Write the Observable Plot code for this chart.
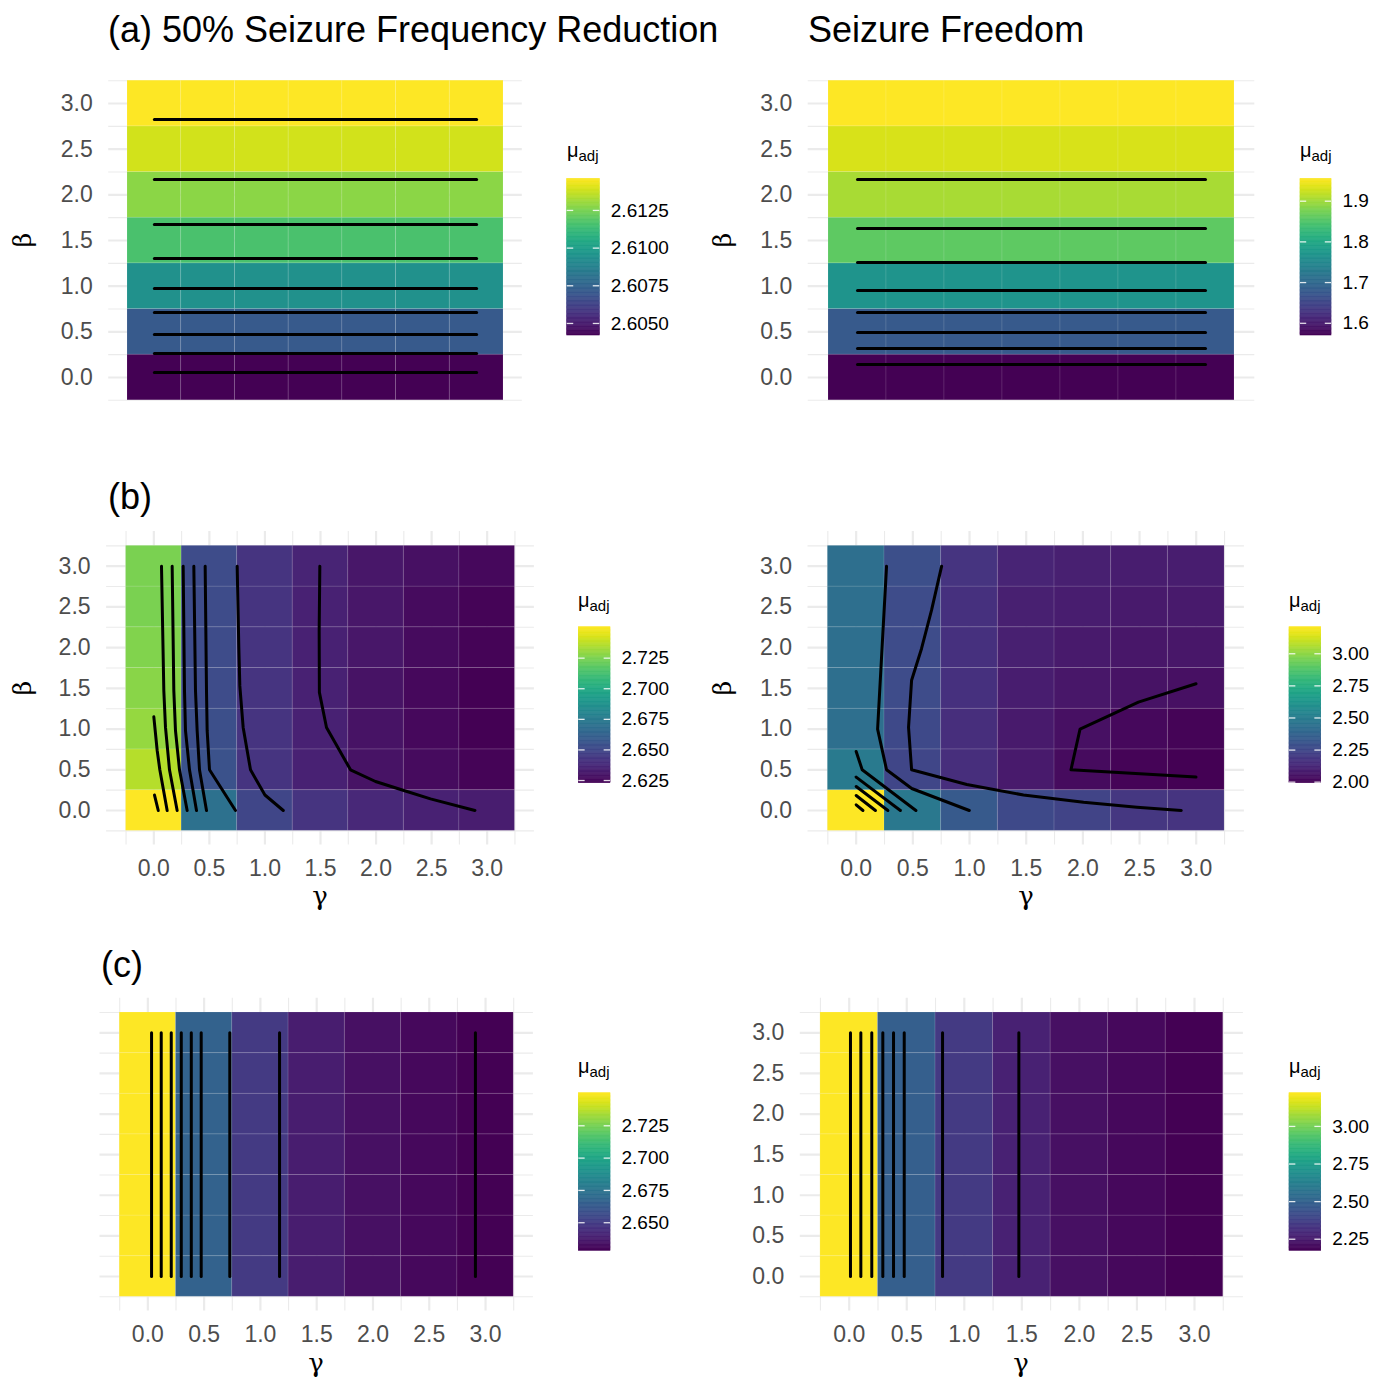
<!DOCTYPE html>
<html><head><meta charset="utf-8">
<script src="https://cdn.jsdelivr.net/npm/d3@7"></script>
<script src="https://cdn.jsdelivr.net/npm/@observablehq/plot@0.6"></script>
<style>
body{margin:0;background:#fff;}
#root{position:relative;width:1400px;height:1400px;background:#fff;overflow:hidden;font-family:"Liberation Sans",Arial,sans-serif;}
#root svg{overflow:visible;}
</style></head><body><div id="root"></div>
<script>
// ---------- data ----------
const gammas = [0, 0.5, 1, 1.5, 2, 2.5, 3];
const betas = [0, 0.5, 1, 1.5, 2, 2.5, 3];
const axisTicks = [0, 0.5, 1, 1.5, 2, 2.5, 3];
const minorBreaks = [-0.25, 0.25, 0.75, 1.25, 1.75, 2.25, 2.75, 3.25];

// (a) mu_adj by beta (constant in gamma)
const aLeftMu = [2.6042, 2.6071, 2.6094, 2.6116, 2.6128, 2.6139, 2.6146];
const aRightMu = [1.570, 1.678, 1.770, 1.859, 1.905, 1.932, 1.955];

// (b) rows: beta 0..3, columns: gamma 0..3
const bLeftMu = [
  [2.7503, 2.6700, 2.6496, 2.6419, 2.6368, 2.6343, 2.6330],
  [2.7363, 2.6547, 2.6419, 2.6343, 2.6292, 2.6266, 2.6241],
  [2.7299, 2.6534, 2.6419, 2.6343, 2.6292, 2.6254, 2.6228],
  [2.7274, 2.6521, 2.6419, 2.6343, 2.6292, 2.6254, 2.6228],
  [2.7261, 2.6521, 2.6419, 2.6343, 2.6305, 2.6266, 2.6241],
  [2.7248, 2.6521, 2.6419, 2.6343, 2.6305, 2.6266, 2.6241],
  [2.7248, 2.6521, 2.6419, 2.6356, 2.6305, 2.6279, 2.6254]
];
const bRightMu = [
  [3.207, 2.478, 2.332, 2.259, 2.235, 2.186, 2.174],
  [2.490, 2.247, 2.150, 2.077, 2.028, 2.004, 1.992],
  [2.429, 2.259, 2.150, 2.077, 2.041, 2.016, 2.004],
  [2.429, 2.271, 2.162, 2.089, 2.065, 2.053, 2.041],
  [2.429, 2.271, 2.162, 2.101, 2.077, 2.065, 2.065],
  [2.429, 2.271, 2.162, 2.101, 2.089, 2.077, 2.077],
  [2.429, 2.284, 2.174, 2.114, 2.101, 2.089, 2.089]
];

// (c) mu_adj by gamma (constant in beta)
const cLeftMu = [2.7502, 2.6661, 2.6490, 2.6381, 2.6332, 2.6307, 2.6283];
const cRightMu = [3.221, 2.4874, 2.3512, 2.2673, 2.2149, 2.1940, 2.173];

// contour lines
const aLeftContourBetas = [0.055, 0.263, 0.471, 0.712, 0.974, 1.303, 1.675, 2.168, 2.825];
const aRightContourBetas = [0.142, 0.318, 0.493, 0.712, 0.953, 1.259, 1.631, 2.168];
const bLeftContours = [
  [[0.006, 0.19], [0.04, 0.0]],
  [[0.0, 1.15], [0.03, 0.74], [0.054, 0.5], [0.12, 0.0]],
  [[0.069, 3.0], [0.09, 1.47], [0.105, 1.02], [0.141, 0.5], [0.21, 0.0]],
  [[0.165, 3.0], [0.18, 1.47], [0.195, 0.98], [0.231, 0.5], [0.30, 0.0]],
  [[0.264, 3.0], [0.276, 1.47], [0.285, 0.98], [0.321, 0.5], [0.384, 0.0]],
  [[0.36, 3.0], [0.375, 1.47], [0.39, 0.98], [0.411, 0.5], [0.474, 0.0]],
  [[0.462, 3.0], [0.474, 1.47], [0.48, 0.98], [0.501, 0.5], [0.735, 0.0]],
  [[0.75, 3.0], [0.765, 2.0], [0.774, 1.53], [0.804, 1.02], [0.87, 0.5], [1.0, 0.19], [1.165, 0.0]],
  [[1.494, 3.0], [1.488, 2.21], [1.49, 1.45], [1.554, 1.02], [1.77, 0.5], [1.995, 0.356], [2.25, 0.245], [2.49, 0.143], [2.89, 0.0]]
];
const bRightContours = [
  [[0.0, 0.07], [0.06, 0.0]],
  [[0.0, 0.184], [0.17, 0.0]],
  [[0.0, 0.295], [0.28, 0.0]],
  [[0.0, 0.41], [0.39, 0.0]],
  [[0.0, 0.725], [0.053, 0.5], [0.527, 0.0]],
  [[0.268, 3.0], [0.189, 1.0], [0.268, 0.5], [0.49, 0.27], [0.998, 0.0]],
  [[0.754, 3.0], [0.665, 2.46], [0.577, 1.99], [0.489, 1.6], [0.462, 1.02], [0.489, 0.5], [0.976, 0.32], [1.476, 0.19], [2.006, 0.10], [2.477, 0.04], [2.868, 0.0]],
  [[2.998, 1.556], [2.49, 1.33], [1.975, 1.0], [1.895, 0.5], [2.998, 0.41]]
];
const cLeftContourGammas = [0.033, 0.119, 0.208, 0.297, 0.386, 0.474, 0.728, 1.17, 2.91];
const cRightContourGammas = [0.011, 0.101, 0.196, 0.292, 0.385, 0.478, 0.811, 1.474];

// legend ticks
const aLeftLegendTicks = [2.605, 2.6075, 2.61, 2.6125];
const aRightLegendTicks = [1.6, 1.7, 1.8, 1.9];
const bLeftLegendTicks = [2.625, 2.65, 2.675, 2.7, 2.725];
const bRightLegendTicks = [2.0, 2.25, 2.5, 2.75, 3.0];
const cLeftLegendTicks = [2.65, 2.675, 2.7, 2.725];
const cRightLegendTicks = [2.25, 2.5, 2.75, 3.0];

// ---------- helpers ----------
const root = document.getElementById("root");
const FONT = "'Liberation Sans', Arial, sans-serif";
function place(node, left, top) {
  node.style.position = "absolute";
  node.style.left = left + "px";
  node.style.top = top + "px";
  root.appendChild(node);
}
const tilesByBeta = arr => betas.flatMap((b, i) => gammas.map(g => ({g, b, v: arr[i]})));
const tilesByGamma = arr => betas.flatMap(b => gammas.map((g, j) => ({g, b, v: arr[j]})));
const tilesGrid = m => betas.flatMap((b, i) => gammas.map((g, j) => ({g, b, v: m[i][j]})));
const hLines = bs => bs.flatMap((b, i) => [{g: gammas[0], b, id: i}, {g: gammas[gammas.length - 1], b, id: i}]);
const vLines = gs => gs.flatMap((g, i) => [{g, b: betas[0], id: i}, {g, b: betas[betas.length - 1], id: i}]);
const polyLines = ls => ls.flatMap((pts, i) => pts.map(([g, b]) => ({g, b, id: i})));
const range = arr => [d3.min(arr.flat()), d3.max(arr.flat())];

function panel(o) {
  const svgLeft = o.svgLeft, svgTop = Math.round(o.py0 - 6);
  const svgW = Math.round(o.px1 - svgLeft + 8), svgH = Math.round(o.py1 + 48 - svgTop);
  const marks = [];
  if (o.gridY) {
    marks.push(Plot.ruleY(minorBreaks, {stroke: "#EBEBEB", strokeWidth: 1.1}));
    marks.push(Plot.ruleY(axisTicks, {stroke: "#EBEBEB", strokeWidth: 2.2}));
  }
  if (o.gridX) {
    marks.push(Plot.ruleX(minorBreaks, {stroke: "#EBEBEB", strokeWidth: 1.1}));
    marks.push(Plot.ruleX(axisTicks, {stroke: "#EBEBEB", strokeWidth: 2.2}));
  }
  marks.push(Plot.rect(o.tiles, {
    x1: d => d.g - 0.25, x2: d => d.g + 0.25, y1: d => d.b - 0.25, y2: d => d.b + 0.25,
    fill: "v", stroke: "white", strokeOpacity: 0.1, strokeWidth: 1
  }));
  marks.push(Plot.line(o.lines, {x: "g", y: "b", z: "id", stroke: "black", strokeWidth: 3, strokeLinejoin: "round"}));
  if (o.labelsX) marks.push(Plot.axisX(axisTicks, {
    anchor: "bottom", tickSize: 0, tickPadding: o.padX ?? 15, fontSize: 23, color: "#4D4D4D",
    tickFormat: d => d.toFixed(1), label: null
  }));
  if (o.labelsY) marks.push(Plot.axisY(axisTicks, {
    anchor: "left", tickSize: 0, tickPadding: 16, fontSize: 23, color: "#4D4D4D",
    tickFormat: d => d.toFixed(1), label: null
  }));
  const svg = Plot.plot({
    width: svgW, height: svgH,
    marginLeft: o.px0 - svgLeft, marginRight: svgLeft + svgW - o.px1,
    marginTop: o.py0 - svgTop, marginBottom: svgTop + svgH - o.py1,
    x: {domain: [-0.425, 3.425], axis: null},
    y: {domain: [-0.425, 3.425], axis: null},
    color: {type: "linear", scheme: "viridis", domain: o.domain},
    style: {fontFamily: FONT, background: "transparent", overflow: "visible"},
    marks
  });
  place(svg, svgLeft, svgTop);
}

function legend(o) {
  const [lo, hi] = o.domain;
  const n = 120;
  const slices = d3.range(n).map(i => ({y1: lo + (hi - lo) * i / n, y2: lo + (hi - lo) * (i + 1) / n, v: lo + (hi - lo) * (i + 0.5) / n}));
  const left = Math.round(o.x0 - 2), top = Math.round(o.y0 - 14);
  const w = Math.round(o.x1 - left + 90), h = Math.round(o.y1 - top + 14);
  const svg = Plot.plot({
    width: w, height: h,
    marginLeft: o.x0 - left, marginRight: left + w - o.x1,
    marginTop: o.y0 - top, marginBottom: top + h - o.y1,
    x: {domain: [0, 1], axis: null},
    y: {domain: [lo, hi], axis: null},
    color: {type: "linear", scheme: "viridis", domain: [lo, hi]},
    style: {fontFamily: FONT, background: "transparent", overflow: "visible"},
    marks: [
      Plot.rect(slices, {x1: () => 0, x2: () => 1, y1: "y1", y2: "y2", fill: "v", stroke: "v", strokeWidth: 0.6}),
      Plot.ruleY(o.ticks, {x1: () => 0, x2: () => 0.2, stroke: "white", strokeWidth: 1.3, strokeOpacity: 0.85}),
      Plot.ruleY(o.ticks, {x1: () => 0.8, x2: () => 1, stroke: "white", strokeWidth: 1.3, strokeOpacity: 0.85}),
      Plot.text(o.ticks, {x: () => 1, y: d => d, dx: 11, textAnchor: "start", text: d => d.toFixed(o.dec), fontSize: 19, fill: "black"})
    ]
  });
  place(svg, left, top);
}

// ---------- panels ----------
const aLeftDomain = range(aLeftMu), aRightDomain = range(aRightMu);
const bLeftDomain = range(bLeftMu), bRightDomain = range(bRightMu);
const cLeftDomain = range(cLeftMu), cRightDomain = range(cRightMu);

panel({svgLeft: 0, px0: 108.2, px1: 521.8, py0: 64.2, py1: 415.8, tiles: tilesByBeta(aLeftMu), lines: hLines(aLeftContourBetas), domain: aLeftDomain, gridY: true, gridX: false, labelsY: true, labelsX: false});
panel({svgLeft: 700, px0: 807.7, px1: 1254.3, py0: 64.2, py1: 415.8, tiles: tilesByBeta(aRightMu), lines: hLines(aRightContourBetas), domain: aRightDomain, gridY: true, gridX: false, labelsY: true, labelsX: false});
panel({svgLeft: 0, px0: 106.1, px1: 533.9, py0: 531.1, py1: 844.6, tiles: tilesGrid(bLeftMu), lines: polyLines(bLeftContours), domain: bLeftDomain, gridY: true, gridX: true, labelsY: true, labelsX: true, padX: 15});
panel({svgLeft: 700, px0: 807.5, px1: 1243.9, py0: 531.1, py1: 844.6, tiles: tilesGrid(bRightMu), lines: polyLines(bRightContours), domain: bRightDomain, gridY: true, gridX: true, labelsY: true, labelsX: true, padX: 15});
panel({svgLeft: 0, px0: 99.5, px1: 532.9, py0: 997.8, py1: 1310.5, tiles: tilesByGamma(cLeftMu), lines: vLines(cLeftContourGammas), domain: cLeftDomain, gridY: true, gridX: true, labelsY: false, labelsX: true, padX: 15});
panel({svgLeft: 700, px0: 799.8, px1: 1242.9, py0: 997.8, py1: 1310.5, tiles: tilesByGamma(cRightMu), lines: vLines(cRightContourGammas), domain: cRightDomain, gridY: true, gridX: true, labelsY: true, labelsX: true, padX: 15});

// ---------- legends ----------
legend({x0: 566.7, x1: 599.3, y0: 178.3, y1: 335, domain: aLeftDomain, ticks: aLeftLegendTicks, dec: 4});
legend({x0: 1300, x1: 1331, y0: 178.3, y1: 335, domain: aRightDomain, ticks: aRightLegendTicks, dec: 1});
legend({x0: 578.3, x1: 610, y0: 626.7, y1: 782.7, domain: bLeftDomain, ticks: bLeftLegendTicks, dec: 3});
legend({x0: 1289, x1: 1320.7, y0: 626.7, y1: 782.7, domain: bRightDomain, ticks: bRightLegendTicks, dec: 2});
legend({x0: 578.3, x1: 610, y0: 1092.7, y1: 1250.3, domain: cLeftDomain, ticks: cLeftLegendTicks, dec: 3});
legend({x0: 1289, x1: 1320.7, y0: 1092.7, y1: 1250.3, domain: cRightDomain, ticks: cRightLegendTicks, dec: 2});

// ---------- text overlay ----------
const ov = d3.create("svg").attr("width", 1400).attr("height", 1400)
  .style("position", "absolute").style("left", "0px").style("top", "0px").style("pointer-events", "none");
const title = (x, y, s) => ov.append("text").attr("x", x).attr("y", y).attr("font-family", FONT).attr("font-size", 36).attr("fill", "black").text(s);
title(108, 42, "(a) 50% Seizure Frequency Reduction");
title(808, 42, "Seizure Freedom");
title(108, 509, "(b)");
title(101, 977, "(c)");

const GREEK = "'DejaVu Serif', 'Liberation Serif', serif";
const betaLabel = (x, y) => ov.append("text").attr("transform", `translate(${x},${y}) rotate(-90)`).attr("text-anchor", "middle")
  .attr("font-family", GREEK).attr("font-size", 25).attr("fill", "black").text("β");
const gammaLabel = (x, y) => ov.append("text").attr("x", x).attr("y", y).attr("text-anchor", "middle")
  .attr("font-family", GREEK).attr("font-size", 26).attr("fill", "black").text("γ");
betaLabel(31, 240); betaLabel(731, 240);
betaLabel(31, 688); betaLabel(731, 688);
gammaLabel(320, 905); gammaLabel(1026, 905);
gammaLabel(316, 1372); gammaLabel(1021, 1372);

const muLabel = (x, y) => {
  const t = ov.append("text").attr("x", x).attr("y", y).attr("font-family", FONT).attr("font-size", 20).attr("fill", "black");
  t.append("tspan").text("μ");
  t.append("tspan").attr("dy", 4).attr("font-size", 15).text("adj");
};
muLabel(567, 157); muLabel(1300, 157);
muLabel(578, 607); muLabel(1289, 607);
muLabel(578, 1073); muLabel(1289, 1073);

root.appendChild(ov.node());
</script></body></html>
